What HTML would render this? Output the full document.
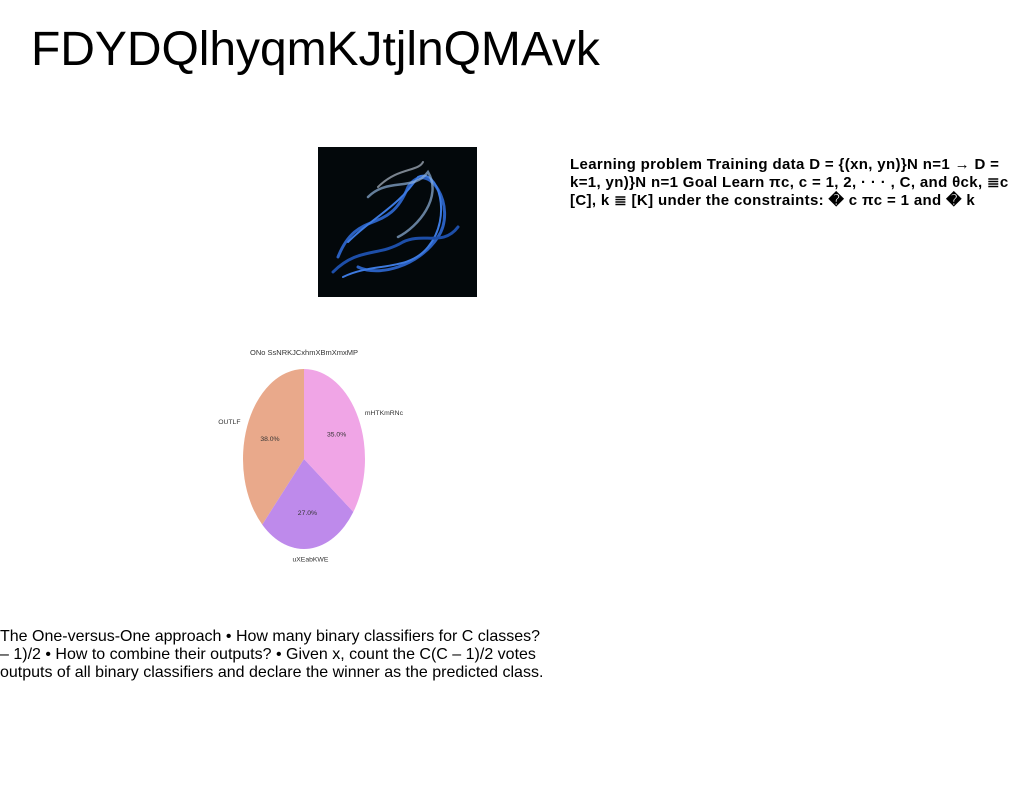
<!DOCTYPE html>
<html><head><meta charset="utf-8"><style>
body{margin:0;width:1024px;height:788px;background:#fff;position:relative;overflow:hidden;font-family:"Liberation Sans",sans-serif;}
#title{position:absolute;left:31px;top:22px;font-size:48px;letter-spacing:-0.05px;color:#000;white-space:nowrap;}
#side{position:absolute;left:570px;top:156px;font-size:15px;font-weight:bold;line-height:18px;letter-spacing:0.35px;white-space:nowrap;color:#000;}
#body{position:absolute;left:0;top:628px;font-size:16px;line-height:18px;letter-spacing:0px;white-space:nowrap;color:#000;}
</style></head><body>
<div id="title">FDYDQlhyqmKJtjlnQMAvk</div>
<svg style="position:absolute;left:318px;top:147px" width="159" height="150">
<rect width="159" height="150" fill="#03080b"/>
<g fill="none" stroke-linecap="round">
<path d="M20,110 C40,60 70,90 90,40 C110,10 140,60 120,90 C100,120 60,130 40,120" stroke="#2a5fbf" stroke-width="3"/>
<path d="M30,95 C55,70 80,60 100,30 C120,20 135,70 110,100 C90,125 55,115 25,130" stroke="#3d7ae0" stroke-width="2"/>
<path d="M50,50 C70,30 95,45 110,25 C125,50 100,80 80,90" stroke="#8fb0d8" stroke-width="2.5" opacity="0.7"/>
<path d="M15,125 C40,100 60,110 85,95 C105,85 125,100 140,80" stroke="#1d4ea8" stroke-width="3"/>
<path d="M60,40 C80,20 100,25 105,15" stroke="#c9d6e6" stroke-width="2" opacity="0.6"/>
</g></svg>
<div id="side">Learning problem Training data D = {(xn, yn)}N n=1 → D =<br>k=1, yn)}N n=1 Goal Learn πc, c = 1, 2, · · · , C, and θck, ≣c<br>[C], k ≣ [K] under the constraints: � c πc = 1 and � k</div>
<svg id="pie" style="position:absolute;left:200px;top:340px" width="230" height="230" font-family="'Liberation Sans',sans-serif"></svg>
<div id="body">The One-versus-One approach • How many binary classifiers for C classes?<br>– 1)/2 • How to combine their outputs? • Given x, count the C(C – 1)/2 votes<br>outputs of all binary classifiers and declare the winner as the predicted class.</div>
<script>
const labels=["OUTLF","uXEabKWE","mHTKmRNc"];
const values=[38,27,35];
const colors=["#e9a98b","#be8aeb","#f0a5e6"];
const chartTitle="ONo SsNRKJCxhmXBmXmxMP";
const svg=document.getElementById('pie');
const NS="http://www.w3.org/2000/svg";
const cx=104,cy=119,rx=61,ry=90;
const total=values.reduce((a,b)=>a+b,0);
function pt(angDeg,f){const a=angDeg*Math.PI/180;return [cx+f*rx*Math.cos(a),cy-f*ry*Math.sin(a)];}
const t=document.createElementNS(NS,'text');


t.setAttribute('x',cx);t.setAttribute('y',15);t.setAttribute('text-anchor','middle');t.setAttribute('font-size','7.5');t.setAttribute('fill','#333');
t.textContent=chartTitle;svg.appendChild(t);
let start=90;
values.forEach((v,i)=>{
  const sweep=v/total*360,end=start+sweep;
  const [x1,y1]=pt(start,1),[x2,y2]=pt(end,1);
  const p=document.createElementNS(NS,'path');
  
  
  p.setAttribute('d',`M${cx},${cy} L${x1},${y1} A${rx},${ry} 0 ${sweep>180?1:0} 0 ${x2},${y2} Z`);
  p.setAttribute('fill',colors[i]);svg.appendChild(p);
  const mid=start+sweep/2;
  const [lx,ly]=pt(mid,1.12),[px,py]=pt(mid,0.6);
  const l=document.createElementNS(NS,'text');
  
  
  l.setAttribute('x',lx);l.setAttribute('y',ly+2);l.setAttribute('font-size','6.8');l.setAttribute('fill','#333');
  l.setAttribute('text-anchor',Math.cos(mid*Math.PI/180)<-0.1?'end':(Math.cos(mid*Math.PI/180)>0.1?'start':'middle'));
  l.textContent=labels[i];svg.appendChild(l);
  const q=document.createElementNS(NS,'text');
  
  
  q.setAttribute('x',px);q.setAttribute('y',py+2);q.setAttribute('font-size','6.8');q.setAttribute('text-anchor','middle');q.setAttribute('fill','#333');
  q.textContent=(v/total*100).toFixed(1)+'%';svg.appendChild(q);
  start=end;
});
</script>
</body></html>
